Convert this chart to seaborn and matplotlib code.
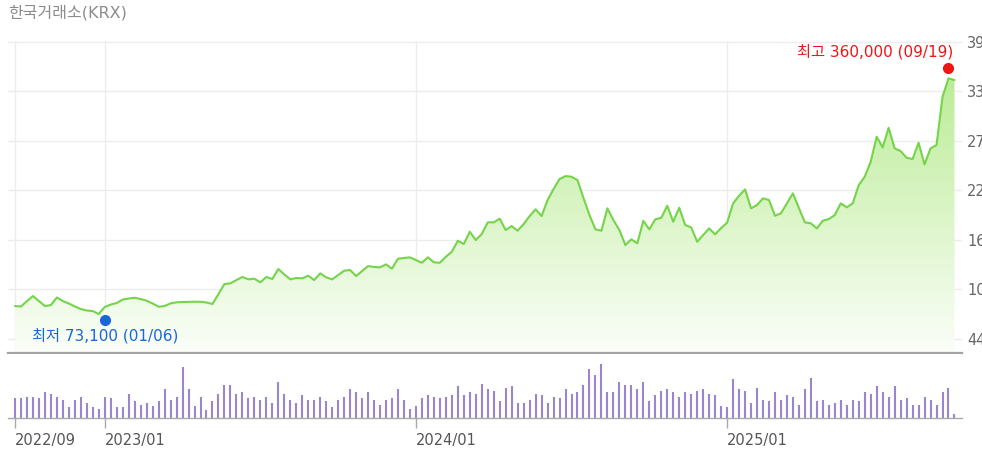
import matplotlib
matplotlib.use("Agg")
import matplotlib.pyplot as plt
import matplotlib.dates as mdates
from matplotlib.colors import LinearSegmentedColormap
from matplotlib.transforms import offset_copy
import numpy as np
import pandas as pd
import seaborn as sns

# weekly close (won), Mondays from 2022-09-19
close = [
    83400, 82900, 89300, 95200, 89300, 83400, 84600, 93500, 89300, 86400,
    82900, 79900, 78100, 77500, 74000, 82300, 85200, 87000, 91100, 92300,
    93200, 91700, 89700, 86400, 82600, 83400, 86600, 87800, 88200, 88400,
    88500, 88500, 87600, 85800, 97600, 109400, 110200, 114100, 117700, 114900,
    115700, 111400, 117700, 115300, 127100, 120800, 114900, 116500, 116100, 119200,
    114100, 122000, 117300, 114900, 120000, 125100, 125900, 118800, 124700, 130600,
    129500, 129100, 132600, 127500, 139300, 140100, 140900, 137700, 134500, 140900,
    135000, 134500, 141600, 147500, 160500, 156600, 171100, 161300, 168400, 182200,
    182200, 186500, 173100, 177800, 172300, 180200, 189600, 197500, 189600, 208500,
    221500, 233300, 236800, 236000, 232100, 210900, 190800, 173900, 172300, 198700,
    184900, 173100, 155400, 162100, 157400, 184100, 173900, 185700, 187600, 201800,
    182900, 199400, 179000, 176300, 159300, 167200, 175100, 168000, 175500, 181700,
    204600, 213600, 221100, 198700, 202600, 210500, 208500, 190000, 192800, 204600,
    216400, 199100, 182200, 181000, 175100, 184100, 186100, 190800, 204600, 199900,
    204600, 226200, 236000, 253700, 283200, 270700, 293800, 269500, 266300, 258400,
    256900, 276100, 250600, 269500, 273400, 330400, 352100, 350100,
]

# weekly volume (relative units)
volume = [
    60, 60, 63, 63, 60, 77, 72, 63, 55, 32, 54, 63, 45, 33, 27, 63, 59, 32, 32, 72,
    50, 40, 45, 36, 50, 86, 54, 63, 153, 86, 36, 63, 23, 50, 72, 99, 99, 72, 77, 59,
    63, 54, 63, 45, 108, 72, 54, 45, 68, 54, 54, 63, 50, 32, 54, 63, 86, 77, 59, 77,
    54, 40, 54, 59, 86, 54, 27, 36, 59, 68, 63, 59, 63, 68, 95, 68, 77, 72, 104, 86,
    81, 50, 90, 95, 45, 45, 54, 72, 68, 45, 63, 59, 86, 72, 77, 99, 149, 131, 162, 77,
    77, 108, 99, 99, 86, 108, 50, 68, 81, 86, 77, 63, 77, 72, 81, 86, 72, 68, 36, 32,
    117, 86, 81, 45, 90, 54, 50, 77, 54, 68, 63, 40, 86, 122, 50, 54, 40, 45, 54, 40,
    54, 50, 77, 72, 95, 77, 63, 95, 54, 59, 40, 40, 63, 54, 40, 77, 90, 13,
]

start_date = "2022-09-19"
y_ticks = [44500, 103000, 161500, 220000, 278500, 337000, 395500]
x_tick_dates = ["2022-09-19", "2023-01-02", "2024-01-01", "2024-12-30"]
x_tick_labels = ["2022/09", "2023/01", "2024/01", "2025/01"]

low_date, low_val, low_label = "2023-01-02", 73100, "최저 73,100 (01/06)"
high_date, high_val, high_label = "2025-09-15", 360000, "최고 360,000 (09/19)"

df = pd.DataFrame({
    "date": pd.date_range(start_date, periods=len(close), freq="7D"),
    "close": close,
    "volume": volume,
})

sns.set_theme(style="white")
plt.rcParams["font.family"] = ["DejaVu Sans", "Noto Sans CJK KR"]

W, H = 982, 459
fig = plt.figure(figsize=(W / 100, H / 100), dpi=100)


def box(l, t, r, b):
    return [l / W, 1 - b / H, (r - l) / W, (b - t) / H]


ax = fig.add_axes(box(8, 41, 962, 353))
axv = fig.add_axes(box(8, 354, 962, 418), sharex=ax)

x0 = mdates.date2num(df["date"].iloc[0]) - 8.2
x1 = x0 + 1116
y0, y1 = 28000, 396200

# gradient area under the price line
cmap = LinearSegmentedColormap.from_list("grn", ["#fbfef9", "#b4ea8a"])
grad = np.linspace(0, 1, 256).reshape(-1, 1)
im = ax.imshow(grad, extent=[x0, x1, y0, y1], origin="lower", aspect="auto",
               cmap=cmap, zorder=1)
poly = ax.fill_between(df["date"], df["close"], y0, color="none", lw=0)
im.set_clip_path(poly.get_paths()[0], transform=ax.transData)

sns.lineplot(data=df, x="date", y="close", ax=ax, color="#74d44a", lw=1.5, zorder=3)

ax.set_xlim(x0, x1)
ax.set_ylim(y0, y1)
ax.set_xlabel("")
ax.set_ylabel("")
ax.set_yticks(y_ticks)
ax.set_yticklabels([f"{v:,}" for v in y_ticks])
ax.yaxis.tick_right()
ax.tick_params(axis="y", length=0, pad=3.6, labelsize=10.5, labelcolor="#666666")
ax.set_xticks(mdates.date2num(pd.to_datetime(x_tick_dates)))
ax.tick_params(axis="x", length=0, labelbottom=False)
ax.grid(True, color="#ececec", lw=1)
for s in ["top", "left", "right"]:
    ax.spines[s].set_visible(False)
ax.spines["bottom"].set_color("#a3a3a3")
ax.spines["bottom"].set_linewidth(1.6)

# low / high markers
ld = mdates.date2num(pd.Timestamp(low_date))
hd = mdates.date2num(pd.Timestamp(high_date))
ax.plot(ld, low_val, "o", ms=7, color="#1b64da", zorder=5, clip_on=False,
        transform=offset_copy(ax.transData, fig=fig, x=0, y=-5, units="dots"))
ax.plot(hd, high_val, "o", ms=7, color="#f01414", zorder=5, clip_on=False,
        transform=offset_copy(ax.transData, fig=fig, x=0, y=4, units="dots"))
ax.annotate(low_label, (ld, low_val), xytext=(0, -15.3), textcoords="offset points",
            ha="center", va="center", color="#1b64da", fontsize=11, zorder=6)
ax.annotate(high_label, (hd, high_val), xytext=(3.4, 14.1), textcoords="offset points",
            ha="right", va="center", color="#f01414", fontsize=11, zorder=6)

# volume bars, about 2 px wide
axv.vlines(mdates.date2num(df["date"]), 0, df["volume"], colors="#9c85cf",
           lw=1.5, snap=True, capstyle="butt")
axv.set_ylim(0, 193)
axv.set_yticks([])
axv.grid(False)
axv.set_xticks(mdates.date2num(pd.to_datetime(x_tick_dates)))
axv.set_xticklabels(x_tick_labels)
axv.tick_params(axis="x", length=7, width=1, color="#aaaaaa", direction="out",
                labelsize=10.5, labelcolor="#555555", pad=3.6, bottom=True)
for lab in axv.get_xticklabels():
    lab.set_ha("left")
for s in ["top", "left", "right"]:
    axv.spines[s].set_visible(False)
axv.spines["bottom"].set_color("#aaaaaa")
axv.spines["bottom"].set_linewidth(1)
axv.set_xlim(x0, x1)
axv.set_xlabel("")

fig.text(8 / W, 1 - 13 / H, "한국거래소(KRX)", color="#8c8c8c", fontsize=11.5,
         ha="left", va="center")

fig.savefig("out.png", dpi=100)
